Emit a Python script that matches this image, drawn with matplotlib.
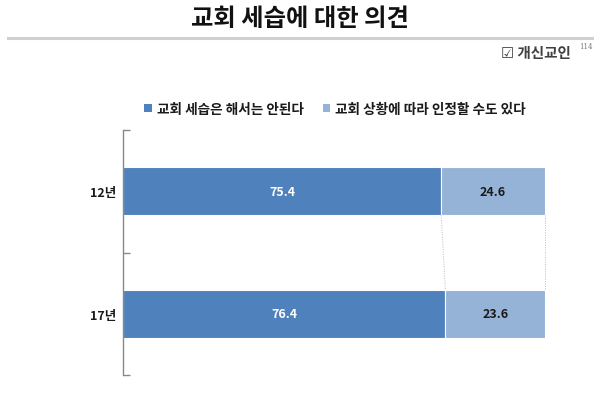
import matplotlib
matplotlib.use("Agg")
import matplotlib.pyplot as plt
from matplotlib.patches import Patch
from matplotlib.lines import Line2D

plt.rcParams['font.family'] = ['Noto Sans CJK KR', 'DejaVu Sans']

title = "교회 세습에 대한 의견"
categories = ["12년", "17년"]
series_names = ["교회 세습은 해서는 안된다", "교회 상황에 따라 인정할 수도 있다"]
not_allowed = [75.4, 76.4]
may_allow = [24.6, 23.6]
colors = ["#4F81BD", "#95B3D7"]

fig = plt.figure(figsize=(6, 4.02), dpi=100)
fig.patch.set_facecolor("white")

# Title and header
fig.text(0.5, 1 - 19 / 402, title, ha="center", va="center", fontsize=17.5,
         fontweight="black", color="#111111")
fig.add_artist(Line2D([8 / 600, 592 / 600], [1 - 39 / 402, 1 - 39 / 402],
                      color="#d0d0d0", linewidth=2.2))
fig.text(571 / 600, 1 - 53 / 402, "☑ 개신교인", ha="right", va="center",
         fontsize=10.5, fontweight="bold", color="#404040",
         family=['Noto Sans CJK KR', 'DejaVu Sans'])
fig.text(579 / 600, 1 - 47 / 402, "114", ha="left", va="center",
         fontsize=5, color="#777777", family=['DejaVu Serif'])

ax = fig.add_axes([123 / 600, 1 - 376 / 402, 422 / 600, 245 / 402])
ax.set_facecolor("none")

ypos = [i + 0.5 for i in range(len(categories))]
h = 0.39
ax.barh(ypos, not_allowed, height=h, color=colors[0], edgecolor="white",
        linewidth=0.8, label=series_names[0])
ax.barh(ypos, may_allow, left=not_allowed, height=h, color=colors[1],
        edgecolor="white", linewidth=0.8, label=series_names[1])

for y, a, b in zip(ypos, not_allowed, may_allow):
    ax.text(a / 2, y, f"{a:.1f}", ha="center", va="center", fontsize=9,
            fontweight="bold", color="white")
    ax.text(a + b / 2, y, f"{b:.1f}", ha="center", va="center", fontsize=9,
            fontweight="bold", color="#1a1a1a")

# series lines
for i in range(len(categories) - 1):
    y0 = ypos[i] + h / 2
    y1 = ypos[i + 1] - h / 2
    ax.plot([not_allowed[i], not_allowed[i + 1]], [y0, y1], color="#bbbbbb",
            linewidth=0.7, linestyle=(0, (1, 1.5)), clip_on=False)
    ax.plot([not_allowed[i] + may_allow[i], not_allowed[i + 1] + may_allow[i + 1]],
            [y0, y1], color="#bbbbbb", linewidth=0.7, linestyle=(0, (1, 1.5)),
            clip_on=False)

ax.set_xlim(0, 100)
ax.set_ylim(len(categories), 0)
for s in ["top", "right", "bottom"]:
    ax.spines[s].set_visible(False)
ax.spines["left"].set_color("#888888")
ax.spines["left"].set_linewidth(1.0)
ax.set_xticks([])
ax.set_yticks(range(len(categories) + 1))
ax.set_yticklabels([])
ax.tick_params(axis="y", which="major", direction="in", length=5,
               color="#888888", width=1.0)
ax.set_yticks(ypos, minor=True)
ax.set_yticklabels(categories, minor=True, fontsize=9, fontweight="bold",
                   color="#1a1a1a")
ax.tick_params(axis="y", which="minor", length=0, pad=5)

handles = [Patch(facecolor=c, edgecolor="none") for c in colors]
fig.legend(handles, series_names, loc="center",
           bbox_to_anchor=(335 / 600, 1 - 110 / 402), ncol=2, frameon=False,
           handlelength=0.55, handleheight=0.55, handletextpad=0.35,
           columnspacing=1.4, prop={"size": 9.8, "weight": "bold"},
           labelcolor="#1a1a1a")

fig.savefig("out.png", dpi=100, facecolor="white")
